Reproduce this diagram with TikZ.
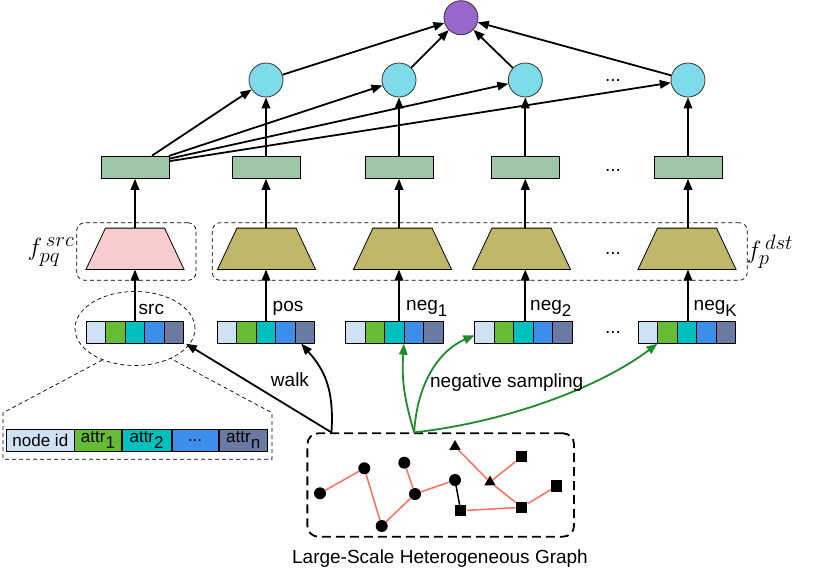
\documentclass[tikz,border=0pt]{standalone}
\usepackage{fontspec}
\setmainfont{Liberation Sans}
\usetikzlibrary{arrows.meta,calc,shapes.geometric}
\definecolor{purp}{HTML}{9966CC}
\definecolor{cyanc}{HTML}{7EDCEA}
\definecolor{embc}{HTML}{9DC7A7}
\definecolor{pinkc}{HTML}{F8CCCF}
\definecolor{olivec}{HTML}{BFB86B}
\definecolor{ca}{HTML}{CFE2F3}
\definecolor{cb}{HTML}{67BC35}
\definecolor{cc}{HTML}{00BFBF}
\definecolor{cd}{HTML}{3D8EEA}
\definecolor{ce}{HTML}{6A7AA3}
\definecolor{salm}{HTML}{FF6F5E}
\definecolor{ngreen}{HTML}{1E8B2D}
\newcommand{\sbs}[1]{\raisebox{-5.5pt}{\fontsize{17}{17}\selectfont #1}}
\begin{document}
\begin{tikzpicture}[x=1pt,y=-1pt,
  font=\fontsize{19}{19}\selectfont,
  arr/.style={line width=1.8pt,-{Triangle[length=11pt,width=8.5pt]}},
  garr/.style={arr,draw=ngreen},
  circ/.style={circle,draw=black!80,line width=0.8pt,minimum size=34pt,inner sep=0pt},
  emb/.style={draw,fill=embc,line width=0.8pt,minimum width=68pt,minimum height=22.3pt,inner sep=0pt},
  cell/.style={draw,line width=0.8pt,minimum width=19.5pt,minimum height=22pt,inner sep=0pt},
  zcell/.style={draw,line width=0.8pt,minimum height=21.7pt,inner sep=0pt,font=\fontsize{17}{17}\selectfont},
  dbox/.style={draw,line width=0.7pt,dash pattern=on 4pt off 3pt,rounded corners=8pt,inner sep=0pt},
  gdot/.style={circle,fill=black,minimum size=12pt,inner sep=0pt},
  gsq/.style={rectangle,fill=black,minimum size=11.5pt,inner sep=0pt},
  gtri/.style={regular polygon,regular polygon sides=3,fill=black,minimum size=13pt,inner sep=0pt},
  gedge/.style={draw=salm,line width=1.5pt},
  lbl/.style={inner sep=0pt,anchor=base west},
  dots/.style={inner sep=0pt,anchor=base},
  flbl/.style={inner sep=0pt,font=\fontsize{24.88}{25}\selectfont}
]
\useasboundingbox (0,0) rectangle (815,571);

% output and hidden nodes
\node[circ,fill=purp] (out) at (461,17.7) {};
\node[circ,fill=cyanc] (h1) at (266,80) {};
\node[circ,fill=cyanc] (h2) at (399,80) {};
\node[circ,fill=cyanc] (h3) at (525.3,80) {};
\node[circ,fill=cyanc] (h4) at (688,80) {};

% embeddings
\node[emb] (e1) at (135,167.2) {};
\node[emb] (e2) at (266,167.2) {};
\node[emb] (e3) at (399,167.2) {};
\node[emb] (e4) at (525.3,167.2) {};
\node[emb] (e5) at (688,167.2) {};

% dots
\node[dots] (d1) at (613,81.5) {...};
\node[dots] (d2) at (613,171.5) {...};
\node[dots] (d3) at (613,254.5) {...};
\node[dots] (d4) at (613,333) {...};

% dashed encoder boxes
\node[dbox,minimum width=119.3pt,minimum height=57.6pt] (B1) at (136.35,251.5) {};
\node[dbox,minimum width=535pt,minimum height=57.6pt] (B2) at (479.8,251.5) {};

% trapezoids
\foreach \n/\x/\col in {t1/135/pinkc,t2/266.5/olivec,t3/402.5/olivec,t4/521.5/olivec,t5/687/olivec}{
  \node[minimum width=97.7pt,minimum height=41pt,inner sep=0pt] (\n) at (\x,248.8) {};
  \filldraw[fill=\col,line width=0.8pt] (\n.south west) -- (\n.south east)
     -- ($(\n.north east)+(-19.5,0)$) -- ($(\n.north west)+(19.5,0)$) -- cycle;
}

% attribute bars
\foreach \n/\x in {src/135,pos/266,ng1/394.8,ng2/523.5,ngK/687.3}{
  \node[minimum width=97.5pt,minimum height=22pt,inner sep=0pt] (\n) at (\x,332.3) {};
  \foreach \i/\c in {1/ca,2/cb,3/cc,4/cd,5/ce}{
    \node[cell,fill=\c] (\n-\i) at ($(\n.west)+(19.5*\i-9.75,0)$) {};
  }
}

% labels
\node[flbl] (fsrc) at (51,252) {$f^{\,src}_{pq}$};
\node[flbl] (fdst) at (770,252) {$f^{\,dst}_{p}$};
\node[lbl] (lsrc) at (138.5,314) {src};
\node[lbl] (lpos) at (272.5,311.7) {pos};
\node[lbl] (lng1) at (406,310.5) {neg\sbs{1}};
\node[lbl] (lng2) at (530,310.5) {neg\sbs{2}};
\node[lbl] (lngK) at (693.5,310.5) {neg\sbs{K}};

% vertical arrows
\foreach \b/\t/\e in {src/t1/e1,pos/t2/e2,ng1/t3/e3,ng2/t4/e4,ngK/t5/e5}{
  \draw[arr] (\b.north -| \e) -- (\t.south -| \e);
  \draw[arr] (\t.north -| \e) -- (\e.south);
}
\draw[arr] (e2) -- (h1);
\draw[arr] (e3) -- (h2);
\draw[arr] (e4) -- (h3);
\draw[arr] (e5) -- (h4);

% fan from src embedding
\draw[arr] ($(e1.north)+(17,0)$) -- (h1);
\draw[arr] ($(e1.north east)+(-0.5,0.3)$) -- (h2);
\draw[arr] ($(e1.north east)+(0,3)$) -- (h3);
\draw[arr] ($(e1.north east)+(0,5.5)$) -- (h4);

% to output
\draw[arr] (h1) -- (out);
\draw[arr] (h2) -- (out);
\draw[arr] (h3) -- (out);
\draw[arr] (h4) -- (out);

% zoom of src attributes
\node[draw,line width=0.7pt,dash pattern=on 4pt off 3pt,ellipse,minimum width=120pt,minimum height=74pt,inner sep=0pt] (ell) at (135,328.5) {};
\node[minimum width=268.5pt,minimum height=46pt,inner sep=0pt] (Z) at (137.5,436) {};
\draw[line width=0.7pt,dash pattern=on 4pt off 3pt] (ell.224) -- (Z.north west) -- (Z.south west)
   -- (Z.south east) -- (Z.north east) -- (ell.-40);
\node[zcell,fill=ca,minimum width=67.3pt] (z1) at (40.35,440.2) {node id};
\node[zcell,fill=cb,minimum width=46.3pt,anchor=west] (z2) at (z1.east) {attr\sbs{1}};
\node[zcell,fill=cc,minimum width=49.4pt,anchor=west] (z3) at (z2.east) {attr\sbs{2}};
\node[zcell,fill=cd,minimum width=46pt,anchor=west] (z4) at (z3.east) {...};
\node[zcell,fill=ce,minimum width=48.6pt,anchor=west] (z5) at (z4.east) {attr\sbs{n}};

% graph
\node[draw,line width=1.8pt,dash pattern=on 9pt off 5pt,rounded corners=11pt,minimum width=266.7pt,minimum height=103.4pt,inner sep=0pt] (G) at (440.7,485) {};
\node[inner sep=0pt,anchor=base] (lgraph) at (440,563.3) {Large-Scale Heterogeneous Graph};
\node[gdot] (g1) at (320,493.3) {};
\node[gdot] (g2) at (364.3,468.3) {};
\node[gdot] (g3) at (381.7,526) {};
\node[gdot] (g4) at (404.3,462.7) {};
\node[gdot] (g5) at (415,494) {};
\node[gdot] (g6) at (455,480) {};
\node[gtri] (g7) at (455,446.5) {};
\node[gtri] (g8) at (490,482) {};
\node[gsq] (g9) at (460.7,510.7) {};
\node[gsq] (g10) at (521.7,456.7) {};
\node[gsq] (g11) at (521.7,507.3) {};
\node[gsq] (g12) at (556.7,486) {};
\draw[gedge] (g1) -- (g2);
\draw[gedge] (g2) -- (g3);
\draw[gedge] (g3) -- (g5);
\draw[gedge] (g4) -- (g5);
\draw[gedge] (g5) -- (g6);
\draw[line width=1.5pt] (g6) -- (g9);
\draw[gedge] (g9) -- (g11);
\draw[gedge] (g7) -- (g8);
\draw[gedge] (g8) -- (g10);
\draw[gedge] (g8) -- (g11);
\draw[gedge] (g11) -- (g12);

% walk and negative sampling
\coordinate (wk) at ($(G.north west)+(25,0)$);
\coordinate (ns) at ($(G.north west)+(107.7,0)$);
\draw[arr] (wk) -- ($(src-5.south east)+(2,0)$);
\draw[arr] (wk) .. controls +(3,-45) and +(22,25) .. ($(pos-5.south)+(-3.5,0)$);
\node[inner sep=0pt,anchor=base] (lwalk) at (290,386) {walk};
\draw[garr] (ns) .. controls +(-12,-40) and +(-2,30) .. (ng1-4.south west);
\draw[garr] (ns) .. controls +(3,-50) and +(-35,15) .. ($(ng2.west)+(0,3)$);
\draw[garr] (ns) .. controls +(90,-10) and +(-60,45) .. (ngK-2.south west);
\node[inner sep=0pt,anchor=base] (lneg) at (506.7,387.5) {negative sampling};
\end{tikzpicture}
\end{document}
